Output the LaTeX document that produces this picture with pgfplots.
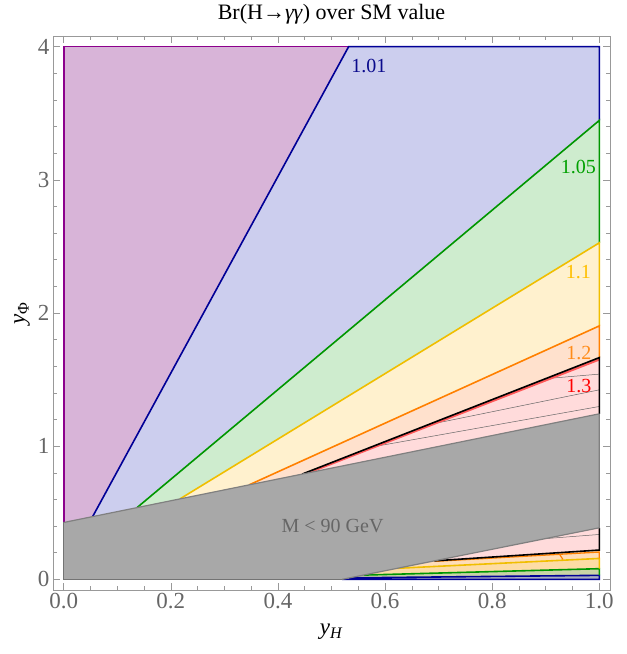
\documentclass[border=0pt]{standalone}
\usepackage{pgfplots}
\pgfplotsset{compat=1.18}
\usepackage{fontspec}
\setmainfont{Liberation Serif}
\definecolor{purpleFill}{RGB}{216,180,216}
\definecolor{purpleLine}{RGB}{140,0,140}
\definecolor{blueFill}{RGB}{204,206,238}
\definecolor{blueLine}{RGB}{0,0,150}
\definecolor{greenFill}{RGB}{206,236,206}
\definecolor{greenLine}{RGB}{0,150,0}
\definecolor{yellowFill}{RGB}{255,241,206}
\definecolor{goldLine}{RGB}{240,190,0}
\definecolor{orangeFill}{RGB}{255,225,205}
\definecolor{orangeLine}{RGB}{255,128,0}
\definecolor{pinkFill}{RGB}{255,219,219}
\definecolor{redLine}{RGB}{255,90,90}
\definecolor{grayFill}{RGB}{168,168,168}
\definecolor{grayEdge}{RGB}{128,128,128}
\definecolor{botOrange}{RGB}{255,221,184}
\definecolor{botYellow}{RGB}{253,220,165}
\definecolor{botGreen}{RGB}{201,211,166}
\definecolor{botBlue}{RGB}{169,173,192}
\definecolor{lab101}{RGB}{10,10,140}
\definecolor{lab105}{RGB}{0,160,0}
\definecolor{lab11}{RGB}{255,192,0}
\definecolor{lab12}{RGB}{255,140,26}
\definecolor{lab13}{RGB}{255,0,0}
\begin{document}
\begin{tikzpicture}
\begin{axis}[
  scale only axis, width=557pt, height=554pt,
  xmin=-0.02, xmax=1.02, ymin=-0.08, ymax=4.08,
  axis line style={draw=black!40, line width=0.8pt},
  every tick/.style={black!40, line width=0.6pt},
  tick align=inside,
  major tick length=7pt, minor tick length=4pt,
  xtick={0,0.2,0.4,0.6,0.8,1}, xticklabels={0.0,0.2,0.4,0.6,0.8,1.0},
  ytick={0,1,2,3,4}, yticklabels={0,1,2,3,4},
  minor x tick num=3, minor y tick num=4,
  ticklabel style={font=\fontsize{23}{26}\selectfont, text=black!60},
  title={Br(H→\textit{γγ}) over SM value},
  every axis title/.style={at={(axis description cs:0.5,1.0397)}, anchor=center, font=\fontsize{22}{26}\selectfont},
  xlabel={\textit{y}\textsubscript{\textit{H}}},
  ylabel={\textit{y}\textsubscript{Φ}},
  every axis x label/.style={font=\fontsize{23}{26}\selectfont, at={(axis description cs:0.5,-0.0758)}, anchor=center},
  every axis y label/.style={font=\fontsize{23}{26}\selectfont, at={(axis description cs:-0.0557,0.5)}, rotate=90, anchor=center},
]
% upper fills
\addplot[fill=purpleFill, draw=none] coordinates {(0,0.427) (0,4) (0.532,4) (0.054,0.471)} -- cycle;
\addplot[fill=blueFill, draw=none] coordinates {(0.054,0.471) (0.532,4) (1,4) (1,3.446) (0.137,0.539)} -- cycle;
\addplot[fill=greenFill, draw=none] coordinates {(0.137,0.539) (1,3.446) (1,2.527) (0.217,0.604)} -- cycle;
\addplot[fill=yellowFill, draw=none] coordinates {(0.217,0.604) (1,2.527) (1,1.903) (0.346,0.709)} -- cycle;
\addplot[fill=orangeFill, draw=none] coordinates {(0.346,0.709) (1,1.903) (1,1.665) (0.445,0.790)} -- cycle;
\addplot[fill=pinkFill, draw=none] coordinates {(0.445,0.790) (1,1.665) (1,1.243)} -- cycle;
% lower fills
\addplot[fill=pinkFill, draw=none] coordinates {(0.692,0.139) (1,0.387) (1,0.22)} -- cycle;
\addplot[fill=botOrange, draw=none] coordinates {(0.623,0.083) (0.692,0.139) (1,0.22) (1,0.157)} -- cycle;
\addplot[fill=botYellow, draw=none] coordinates {(0.56,0.032) (0.623,0.083) (1,0.157) (1,0.08)} -- cycle;
\addplot[fill=botGreen, draw=none] coordinates {(0.533,0.011) (0.56,0.032) (1,0.08) (1,0.03)} -- cycle;
\addplot[fill=botBlue, draw=none] coordinates {(0.52,0) (0.533,0.011) (1,0.03) (1,0)} -- cycle;
% thin mesh lines
\addplot[black!60, line width=0.5pt] coordinates {(0.90,1.507) (1,1.541)};
\addplot[black!60, line width=0.5pt] coordinates {(0.68,1.160) (1,1.423)};
\addplot[black!60, line width=0.5pt] coordinates {(0.573,0.992) (1,1.298)};
\addplot[black!60, line width=0.5pt] coordinates {(0.90,0.306) (1,0.337)};
% contour lines upper
\addplot[purpleLine, line width=1.6pt] coordinates {(0,0.427) (0,4) (0.532,4)};
\addplot[blueLine, line width=1.6pt] coordinates {(0.054,0.471) (0.532,4) (1,4) (1,3.446)};
\addplot[greenLine, line width=1.6pt] coordinates {(0.137,0.539) (1,3.446) (1,2.527)};
\addplot[goldLine, line width=1.6pt] coordinates {(0.217,0.604) (1,2.527) (1,1.903)};
\addplot[orangeLine, line width=1.6pt] coordinates {(0.346,0.709) (1,1.903) (1,1.665)};
\addplot[redLine, line width=2.2pt] coordinates {(0.445,0.782) (1,1.651)};
\addplot[black, line width=1.6pt] coordinates {(0.445,0.790) (1,1.665) (1,1.243)};
% contour lines lower
\addplot[blueLine, line width=1.6pt] coordinates {(0.52,0) (1,0) (1,0.03) (0.533,0.011)};
\addplot[greenLine, line width=1.6pt] coordinates {(0.56,0.032) (1,0.08) (1,0.03)};
\addplot[goldLine, line width=1.6pt] coordinates {(0.623,0.083) (1,0.157) (1,0.08)};
\addplot[orangeLine, line width=1.3pt] coordinates {(0.692,0.135) (1,0.205) (1,0.157)};
\addplot[orangeLine, line width=1.2pt] coordinates {(0.925,0.193) (0.932,0.150)};
\addplot[black, line width=1.6pt] coordinates {(0.692,0.139) (1,0.22) (1,0.387)};
% gray excluded region
\addplot[fill=grayFill, draw=none] coordinates {(0,0) (0,0.427) (1,1.243) (1,0.387) (0.52,0)} -- cycle;
\addplot[grayEdge, line width=1.2pt] coordinates {(0,0.427) (1,1.243)};
\addplot[grayEdge, line width=1.2pt] coordinates {(0.52,0) (1,0.387) (1,1.243)};
\addplot[black!55, line width=1.2pt] coordinates {(0,0.427) (0,0) (0.52,0)};
% labels
\node[text=lab101, font=\fontsize{20}{24}\selectfont] at (axis cs:0.570,3.855) {1.01};
\node[text=lab105, font=\fontsize{20}{24}\selectfont] at (axis cs:0.961,3.099) {1.05};
\node[text=lab11, font=\fontsize{20}{24}\selectfont] at (axis cs:0.961,2.306) {1.1};
\node[text=lab12, font=\fontsize{20}{24}\selectfont] at (axis cs:0.962,1.700) {1.2};
\node[text=lab13, font=\fontsize{20}{24}\selectfont] at (axis cs:0.962,1.448) {1.3};
\node[text=black!60, font=\fontsize{20}{24}\selectfont] at (axis cs:0.502,0.402) {M < 90 GeV};
\end{axis}
\pgfresetboundingbox
\path[use as bounding box] ([xshift=-53pt,yshift=-64pt]current axis.south west) rectangle ([xshift=16pt,yshift=36pt]current axis.north east);
\end{tikzpicture}
\end{document}
